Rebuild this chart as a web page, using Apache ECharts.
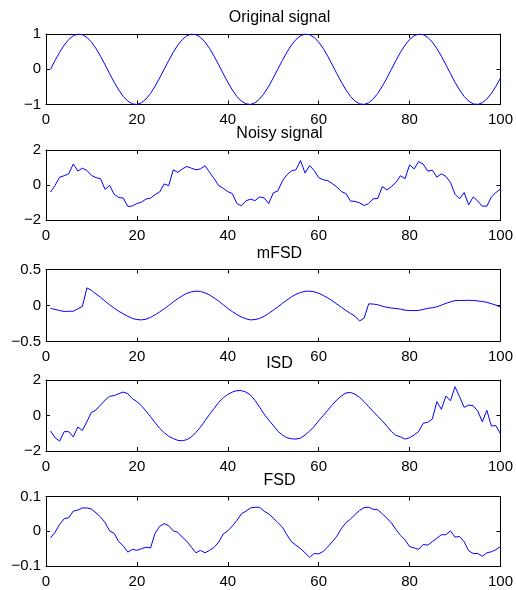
<!DOCTYPE html>
<html>
<head>
<meta charset="utf-8">
<title>Signal denoising</title>
<script src="https://cdn.jsdelivr.net/npm/echarts@6/dist/echarts.min.js"></script>
<style>
  html, body { margin: 0; padding: 0; background: #fff; }
  #chart { width: 516px; height: 590px; }
</style>
</head>
<body>
<div id="chart"></div>
<script>
// Sample numbers along the horizontal axis
const samples = Array.from({ length: 100 }, (_, i) => i + 1);

const panelTitles = ['Original signal', 'Noisy signal', 'mFSD', 'ISD', 'FSD'];
const xTicks = [0, 20, 40, 60, 80, 100];
const yRanges = [[-1, 1, 1], [-2, 2, 2], [-0.5, 0.5, 0.5], [-2, 2, 2], [-0.1, 0.1, 0.1]];

const originalSignal = [
  0, 0.249, 0.482, 0.685, 0.844, 0.951, 0.998, 0.982, 0.905, 0.771, 0.588, 0.368, 0.125,
  -0.125, -0.368, -0.588, -0.771, -0.905, -0.982, -0.998, -0.951, -0.844, -0.685, -0.482, -0.249,
  0, 0.249, 0.482, 0.685, 0.844, 0.951, 0.998, 0.982, 0.905, 0.771, 0.588, 0.368, 0.125,
  -0.125, -0.368, -0.588, -0.771, -0.905, -0.982, -0.998, -0.951, -0.844, -0.685, -0.482, -0.249,
  0, 0.249, 0.482, 0.685, 0.844, 0.951, 0.998, 0.982, 0.905, 0.771, 0.588, 0.368, 0.125,
  -0.125, -0.368, -0.588, -0.771, -0.905, -0.982, -0.998, -0.951, -0.844, -0.685, -0.482, -0.249,
  0, 0.249, 0.482, 0.685, 0.844, 0.951, 0.998, 0.982, 0.905, 0.771, 0.588, 0.368, 0.125,
  -0.125, -0.368, -0.588, -0.771, -0.905, -0.982, -0.998, -0.951, -0.844, -0.685, -0.482, -0.249
];

const noisySignal = [
  -0.4, -0.02, 0.45, 0.53, 0.64, 1.2, 0.8, 0.96, 0.83, 0.55,
  0.42, 0.36, -0.25, -0.02, -0.53, -0.72, -0.74, -1.23, -1.2, -1.06,
  -0.98, -0.8, -0.75, -0.55, -0.4, 0.06, -0.04, 0.87, 0.72, 0.92,
  1.06, 0.96, 0.87, 0.92, 1.1, 0.72, 0.36, -0.04, -0.19, -0.38,
  -0.49, -1.06, -1.19, -0.9, -0.81, -0.89, -0.68, -0.74, -1.06, -0.45,
  -0.34, 0.23, 0.58, 0.81, 0.87, 1.4, 0.68, 1.11, 0.83, 0.42,
  0.3, 0.25, 0.08, -0.11, -0.38, -0.49, -0.92, -0.94, -1.02, -1.17,
  -1.06, -0.79, -0.77, -0.09, -0.28, -0.09, 0.15, 0.53, 0.36, 1.15,
  0.92, 1.34, 1.19, 0.79, 0.85, 0.45, 0.64, 0.49, 0.15, -0.53,
  -0.79, -0.43, -1.13, -0.68, -0.92, -1.21, -1.21, -0.68, -0.43, -0.23
];

const mfsdSignal = [
  -0.04, -0.055, -0.07, -0.083, -0.08, -0.08, -0.046, -0.014, 0.245, 0.21,
  0.16, 0.115, 0.06, 0.01, -0.037, -0.08, -0.115, -0.15, -0.18, -0.195,
  -0.2, -0.19, -0.165, -0.13, -0.09, -0.045, 0.0, 0.05, 0.095, 0.135,
  0.17, 0.19, 0.2, 0.195, 0.175, 0.145, 0.105, 0.06, 0.01, -0.04,
  -0.085, -0.125, -0.16, -0.185, -0.2, -0.195, -0.18, -0.15, -0.11, -0.065,
  -0.02, 0.03, 0.075, 0.12, 0.155, 0.18, 0.197, 0.2, 0.19, 0.17,
  0.14, 0.105, 0.065, 0.02, -0.025, -0.07, -0.11, -0.15, -0.215, -0.175,
  0.023, 0.02, 0.01, -0.01, -0.025, -0.035, -0.042, -0.05, -0.065, -0.07,
  -0.07, -0.068, -0.055, -0.04, -0.03, -0.018, 0.005, 0.03, 0.05, 0.068,
  0.07, 0.07, 0.072, 0.07, 0.063, 0.055, 0.045, 0.025, 0.005, -0.023
];

const isdSignal = [
  -0.87, -1.25, -1.44, -0.91, -0.91, -1.21, -0.65, -0.84, -0.35, 0.18,
  0.31, 0.59, 0.87, 1.08, 1.12, 1.23, 1.32, 1.23, 0.95, 0.78,
  0.55, 0.25, -0.07, -0.4, -0.72, -0.97, -1.17, -1.3, -1.4, -1.42,
  -1.36, -1.21, -0.95, -0.65, -0.29, 0.07, 0.4, 0.74, 1.0, 1.19,
  1.32, 1.4, 1.4, 1.32, 1.15, 0.85, 0.47, 0.08, -0.25, -0.56,
  -0.88, -1.1, -1.25, -1.31, -1.33, -1.27, -1.1, -0.88, -0.62, -0.3,
  0.0, 0.3, 0.6, 0.88, 1.1, 1.27, 1.3, 1.2, 1.02, 0.78,
  0.5, 0.22, -0.05, -0.3, -0.6, -0.9, -1.12, -1.2, -1.33, -1.25,
  -1.1, -0.9, -0.44, -0.38, -0.2, 0.78, 0.35, 1.1, 0.83, 1.62,
  1.06, 0.46, 0.59, 0.55, 0.25, -0.35, 0.29, -0.59, -0.57, -1.04
];

const fsdSignal = [
  -0.019, -0.003, 0.02, 0.036, 0.039, 0.058, 0.061, 0.067, 0.067, 0.064,
  0.053, 0.041, 0.025, 0.001, -0.006, -0.03, -0.042, -0.06, -0.052, -0.055,
  -0.05, -0.046, -0.048, -0.006, 0.014, 0.022, 0.016, 0.001, -0.003, -0.017,
  -0.029, -0.046, -0.062, -0.055, -0.062, -0.055, -0.046, -0.031, -0.008, 0.001,
  0.015, 0.031, 0.05, 0.058, 0.067, 0.069, 0.069, 0.058, 0.05, 0.038,
  0.025, 0.012, -0.01, -0.03, -0.04, -0.05, -0.062, -0.075, -0.064, -0.065,
  -0.058, -0.045, -0.03, -0.014, 0.008, 0.025, 0.035, 0.048, 0.06, 0.068,
  0.069, 0.063, 0.062, 0.05, 0.038, 0.024, 0.005, -0.012, -0.025, -0.044,
  -0.048, -0.052, -0.038, -0.04, -0.03, -0.02, -0.01, -0.01, 0.001, -0.017,
  -0.015, -0.03, -0.056, -0.064, -0.064, -0.072, -0.062, -0.059, -0.053, -0.044
];

const panelData = [originalSignal, noisySignal, mfsdSignal, isdSignal, fsdSignal];

// Panel frames: top edge and height of each plot box
const panelTops = [34, 150, 269.5, 380, 496.5];
const panelHeights = [70.5, 70, 72, 71, 69.5];
const plotLeft = 46;
const plotRight = 13;

const FONT = '"Liberation Sans", Arial, Helvetica, sans-serif';
const ink = '#000';

function fmt(v) {
  const s = String(Math.round(v * 1000) / 1000);
  return s.charAt(0) === '-' ? '\u2212' + s.slice(1) : s;
}

const grids = [], xAxes = [], yAxes = [], series = [], titles = [];

panelData.forEach((vals, i) => {
  grids.push({ left: plotLeft, right: plotRight, top: panelTops[i], height: panelHeights[i], containLabel: false });
  const [ymin, ymax, yint] = yRanges[i];
  const frameLine = { show: true, onZero: false, lineStyle: { color: ink, width: 1 } };
  const tick = { show: true, inside: true, length: 4, lineStyle: { color: ink, width: 1 } };

  xAxes.push({
    type: 'value', gridIndex: i, position: 'bottom', min: 0, max: 100, interval: 20,
    axisLine: frameLine, axisTick: tick, splitLine: { show: false },
    axisLabel: { show: true, margin: 8, color: ink, fontSize: 15, fontFamily: FONT, formatter: fmt,
      customValues: xTicks }
  });
  xAxes.push({
    type: 'value', gridIndex: i, position: 'top', min: 0, max: 100, interval: 20,
    axisLine: frameLine, axisTick: tick, splitLine: { show: false }, axisLabel: { show: false }
  });
  yAxes.push({
    type: 'value', gridIndex: i, position: 'left', min: ymin, max: ymax, interval: yint,
    axisLine: frameLine, axisTick: tick, splitLine: { show: false },
    axisLabel: { show: true, margin: 5, color: ink, fontSize: 15, fontFamily: FONT, formatter: fmt }
  });
  yAxes.push({
    type: 'value', gridIndex: i, position: 'right', min: ymin, max: ymax, interval: yint,
    axisLine: frameLine, axisTick: tick, splitLine: { show: false }, axisLabel: { show: false }
  });

  series.push({
    type: 'line', xAxisIndex: 2 * i, yAxisIndex: 2 * i,
    data: samples.map((x, k) => [x, vals[k]]),
    showSymbol: false, symbol: 'none', silent: true, animation: false,
    lineStyle: { color: '#0000ff', width: 1 }
  });

  titles.push({
    text: panelTitles[i], left: 274.5, top: panelTops[i] - 29, textAlign: 'center',
    textStyle: { color: ink, fontSize: 16, fontWeight: 'normal', fontFamily: FONT }
  });
});

const chart = echarts.init(document.getElementById('chart'), null, { renderer: 'canvas' });
chart.setOption({
  backgroundColor: '#fff',
  animation: false,
  title: titles,
  grid: grids,
  xAxis: xAxes,
  yAxis: yAxes,
  series: series
});
</script>
</body>
</html>
